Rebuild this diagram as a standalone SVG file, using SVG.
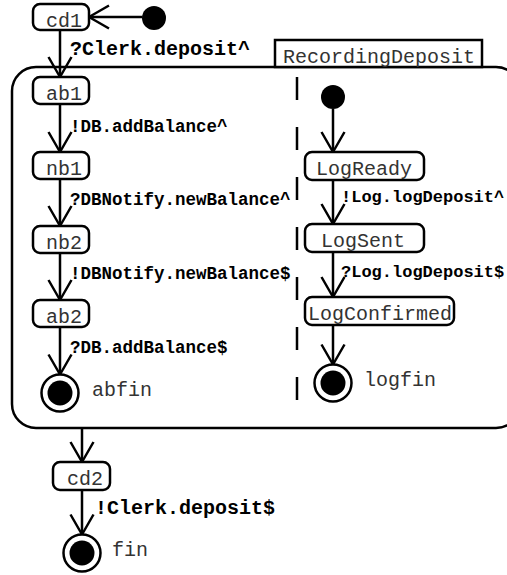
<svg xmlns="http://www.w3.org/2000/svg" width="507" height="575" viewBox="0 0 507 575">
<style>
.st{fill:#fff;stroke:#000;stroke-width:2.5}
.nt{font-family:"Liberation Mono","Courier New",monospace;font-size:20px;fill:#333}
.lb{font-family:"Liberation Mono","Courier New",monospace;font-weight:bold;fill:#000}
.big{font-size:20px}
.sm{font-size:17.5px}
.rs{font-size:17px}
.ed{fill:none;stroke:#000;stroke-width:2.5;marker-end:url(#arr)}
.dot{fill:#000}
.ring{fill:#fff;stroke:#000;stroke-width:2.5}
</style>
<defs>
<marker id="arr" markerUnits="userSpaceOnUse" markerWidth="26" markerHeight="28" viewBox="-23 -14 26 28" refX="0" refY="0" orient="auto" overflow="visible">
<path d="M-20,-11.5 L0,0 L-20,11.5" fill="none" stroke="#000" stroke-width="2.5" stroke-linejoin="round"/>
</marker>
</defs>
<rect width="507" height="575" fill="#fff"/>

<g id="RecordingDeposit">
<rect x="12" y="67" width="508" height="361" rx="24" ry="24" fill="none" stroke="#000" stroke-width="2.5"/>
<rect x="275" y="40" width="207" height="27" fill="#fff" stroke="#000" stroke-width="2.5"/>
<text x="379" y="63" text-anchor="middle" class="nt">RecordingDeposit</text>
<line x1="297" y1="77" x2="297" y2="400" stroke="#000" stroke-width="2.5" stroke-dasharray="23 27"/>
</g>

<g id="connectors">
<line class="ed" x1="142" y1="17" x2="89" y2="17"/>
<line class="ed" x1="60" y1="30" x2="60" y2="77"/>
<line class="ed" x1="60" y1="104" x2="60" y2="152"/>
<line class="ed" x1="60" y1="179" x2="60" y2="226"/>
<line class="ed" x1="60" y1="253" x2="60" y2="300"/>
<line class="ed" x1="60" y1="327" x2="60" y2="374.5"/>
<line class="ed" x1="333" y1="109" x2="333" y2="152"/>
<line class="ed" x1="333" y1="180" x2="333" y2="224"/>
<line class="ed" x1="333" y1="252" x2="333" y2="297"/>
<line class="ed" x1="333" y1="325" x2="333" y2="364.5"/>
<line class="ed" x1="82" y1="428" x2="82" y2="462"/>
<line class="ed" x1="82" y1="490" x2="82" y2="534.5"/>
<text x="70" y="55" class="lb big">?Clerk.deposit^</text>
<text x="70" y="132" class="lb sm">!DB.addBalance^</text>
<text x="70" y="205" class="lb sm">?DBNotify.newBalance^</text>
<text x="70" y="279" class="lb sm">!DBNotify.newBalance$</text>
<text x="70" y="353" class="lb sm">?DB.addBalance$</text>
<text x="341" y="202" class="lb rs">!Log.logDeposit^</text>
<text x="341" y="277" class="lb rs">?Log.logDeposit$</text>
<text x="95" y="514" class="lb big">!Clerk.deposit$</text>
</g>

<g id="init1"><circle cx="154" cy="18" r="12" class="dot"/></g>
<g id="cd1"><rect x="33" y="4" width="56" height="26" rx="7" class="st"/><text x="64" y="27" text-anchor="middle" class="nt">cd1</text></g>
<g id="ab1"><rect x="33" y="77" width="56" height="27" rx="7" class="st"/><text x="64" y="100" text-anchor="middle" class="nt">ab1</text></g>
<g id="nb1"><rect x="33" y="152" width="56" height="27" rx="7" class="st"/><text x="64" y="175" text-anchor="middle" class="nt">nb1</text></g>
<g id="nb2"><rect x="33" y="226" width="56" height="27" rx="7" class="st"/><text x="64" y="249" text-anchor="middle" class="nt">nb2</text></g>
<g id="ab2"><rect x="33" y="300" width="56" height="27" rx="7" class="st"/><text x="64" y="323" text-anchor="middle" class="nt">ab2</text></g>
<g id="abfin"><circle cx="60" cy="393" r="18.5" class="ring"/><circle cx="60" cy="393" r="12.5" class="dot"/><text x="92" y="396" class="nt">abfin</text></g>

<g id="init2"><circle cx="333" cy="97" r="12" class="dot"/></g>
<g id="LogReady"><rect x="305" y="152" width="119" height="28" rx="7" class="st"/><text x="364" y="175" text-anchor="middle" class="nt">LogReady</text></g>
<g id="LogSent"><rect x="305" y="224" width="119" height="28" rx="7" class="st"/><text x="363" y="247" text-anchor="middle" class="nt">LogSent</text></g>
<g id="LogConfirmed"><rect x="305" y="297" width="149" height="28" rx="7" class="st"/><text x="380" y="320" text-anchor="middle" class="nt">LogConfirmed</text></g>
<g id="logfin"><circle cx="333" cy="383" r="18.5" class="ring"/><circle cx="333" cy="383" r="12.5" class="dot"/><text x="364" y="386" class="nt">logfin</text></g>

<g id="cd2"><rect x="53" y="462" width="57" height="28" rx="7" class="st"/><text x="85" y="485" text-anchor="middle" class="nt">cd2</text></g>
<g id="fin"><circle cx="82" cy="553" r="18.5" class="ring"/><circle cx="82" cy="553" r="12.5" class="dot"/><text x="112" y="556" class="nt">fin</text></g>
</svg>
